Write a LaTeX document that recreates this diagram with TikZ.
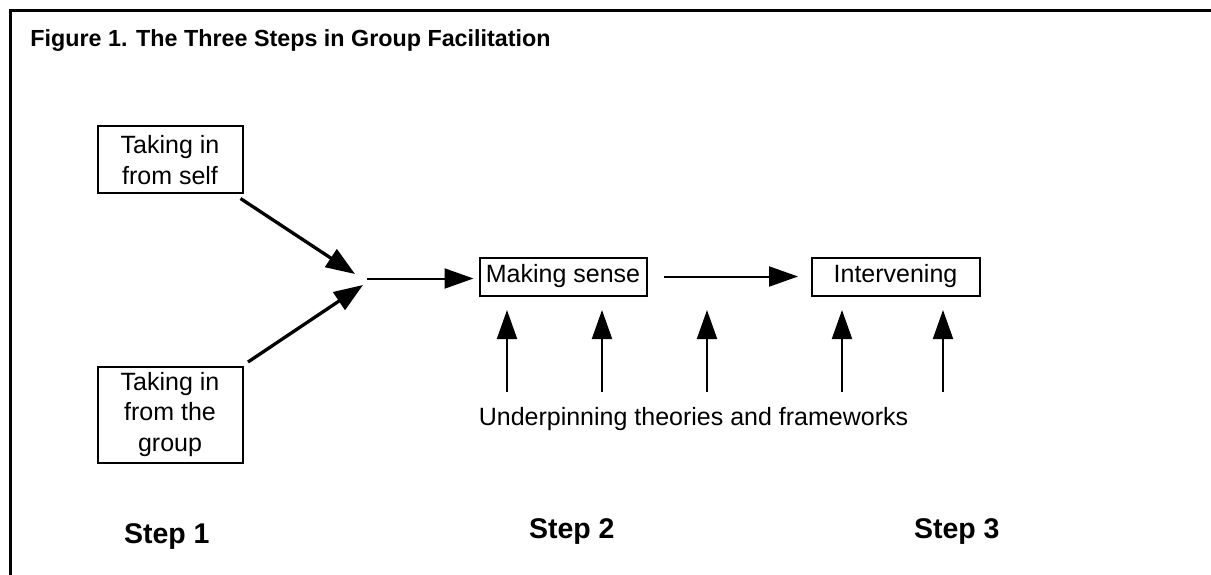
\documentclass[tikz,border=0pt]{standalone}
\usepackage{fontspec}
\setmainfont{Liberation Sans}
\usetikzlibrary{arrows.meta}
\begin{document}
\begin{tikzpicture}[x=1pt,y=-1pt,
  every node/.style={inner sep=0pt, outer sep=0pt},
  normaltext/.style={font=\fontsize{25}{30.5}\selectfont},
  boxnode/.style={normaltext, draw, line width=2pt, align=center},
  titletext/.style={font=\fontsize{23.3}{28}\selectfont\bfseries, anchor=base west},
  steptext/.style={font=\fontsize{28.5}{34}\selectfont\bfseries, anchor=base west},
  arr/.style={-{Triangle[length=29pt,width=20pt]}, line width=2pt},
  thickarr/.style={-{Triangle[length=29pt,width=21pt]}, line width=3.3pt},
]
\useasboundingbox (0,0) rectangle (1211,575);
\draw[line width=3pt] (10.5,576) -- (10.5,10.5) -- (1212,10.5);

\node[titletext] (title) at (30.5,47) {Figure 1. The Three Steps in Group Facilitation};

\node[boxnode, minimum width=145pt, minimum height=67pt] (s1) at (170,160) {Taking in\\from self};
\node[boxnode, minimum width=145pt, minimum height=96pt] (s2) at (170,414.5) {Taking in\\from the\\group};
\node[boxnode, minimum width=167pt, minimum height=38pt] (ms) at (563,276.5) {Making sense};
\node[boxnode, minimum width=168pt, minimum height=38pt] (iv) at (895.5,276.5) {Intervening};

\coordinate (j1) at (355,274);
\coordinate (j2) at (363,285);
\coordinate (j3) at (367,278.5);

\draw[thickarr] ([shift={(-2pt,-5pt)}]s1.south east) -- (j1);
\draw[thickarr] ([shift={(5.5pt,4.5pt)}]s2.north east) -- (j2);
\draw[arr, shorten >=6pt] (j3) -- (j3 -| ms.west);
\draw[arr, shorten <=17.5pt, shorten >=13.5pt] (ms.east) -- (iv.west);

\node[normaltext, anchor=base] (ut) at (693.5,425) {Underpinning theories and frameworks};

\coordinate (u1) at (507,392);
\coordinate (u2) at (602,392);
\coordinate (u3) at (707,392);
\coordinate (u4) at (842,392);
\coordinate (u5) at (943,392);
\foreach \u in {u1,u2,u3,u4,u5}
  \draw[arr, shorten >=14.5pt] (\u) -- (\u |- ms.south);

\node[steptext] (st1) at (124,543) {Step 1};
\node[steptext] (st2) at (529,538) {Step 2};
\node[steptext] (st3) at (914,538) {Step 3};
\end{tikzpicture}
\end{document}
